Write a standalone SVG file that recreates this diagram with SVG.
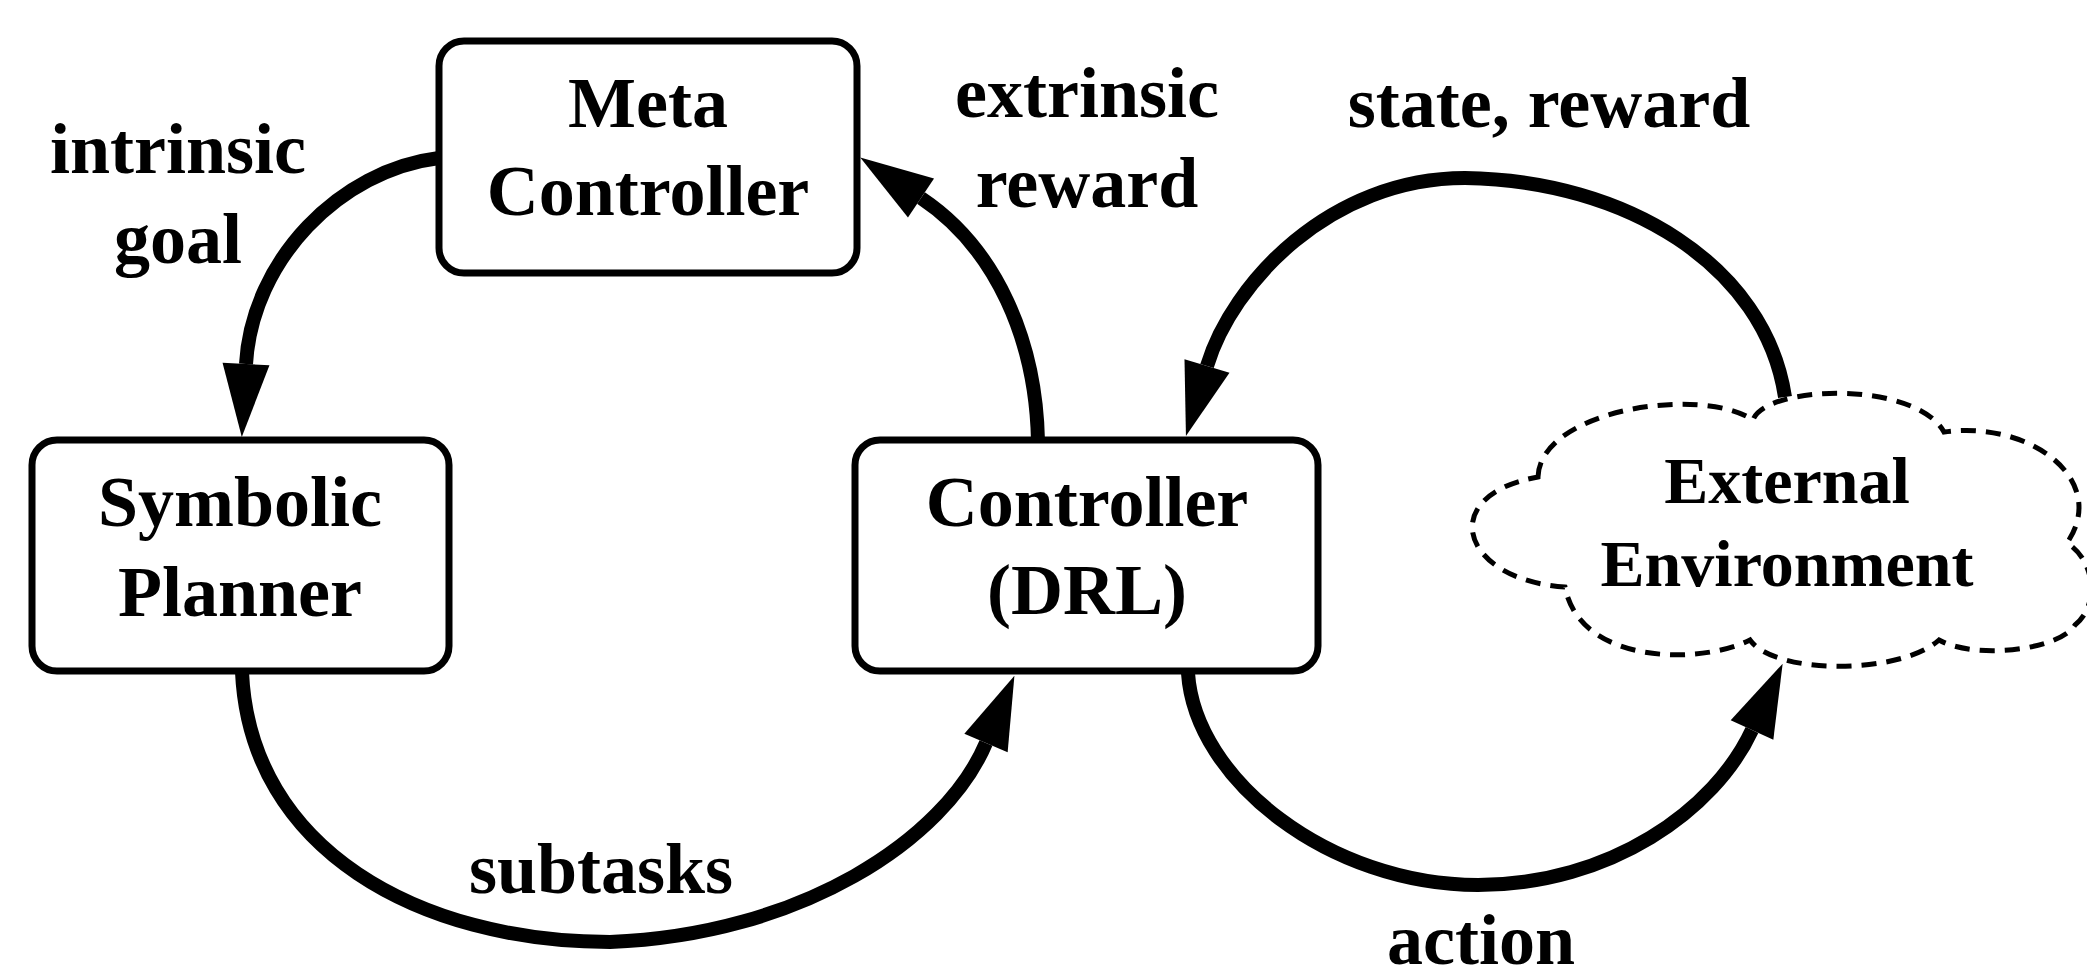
<svg xmlns="http://www.w3.org/2000/svg" width="2087" height="973" viewBox="0 0 2087 973">
  <style>
    .box { fill: #ffffff; stroke: #000000; stroke-width: 7; }
    .cloud { fill: none; stroke: #000000; stroke-width: 5; stroke-dasharray: 15 10; }
    .edge { fill: none; stroke: #000000; stroke-width: 14; }
    text { font-family: "Liberation Serif", "Times New Roman", serif; font-weight: bold; font-size: 72px; fill: #000000; text-anchor: middle; }
    .small { font-size: 66px; }
  </style>
  <defs>
    <marker id="arrow" markerUnits="userSpaceOnUse" markerWidth="80" markerHeight="50" refX="0" refY="23.5" orient="auto" overflow="visible">
      <path d="M0,0 L73,23.5 L0,47 Z" fill="#000000"/>
    </marker>
  </defs>

  <rect width="2087" height="973" fill="#ffffff"/>

  <!-- connectors -->
  <g id="connectors">
    <path id="edge-intrinsic-goal" class="edge" d="M439,158 C340,170 252,260 246,364" marker-end="url(#arrow)"/>
    <path id="edge-extrinsic-reward" class="edge" d="M1038,441 C1036,340 996,248 921,198" marker-end="url(#arrow)"/>
    <path id="edge-state-reward" class="edge" d="M1785,397 C1765,265 1625,180 1465,178 C1330,178 1232,283 1207,366" marker-end="url(#arrow)"/>
    <path id="edge-subtasks" class="edge" d="M242,672 C250,850 420,942 610,942 C800,935 945,840 986,743" marker-end="url(#arrow)"/>
    <path id="edge-action" class="edge" d="M1188,673 C1195,780 1330,885 1478,885 C1610,885 1715,810 1752,730" marker-end="url(#arrow)"/>
  </g>

  <!-- edge labels -->
  <g id="edge-labels">
    <text x="178" y="173">intrinsic</text>
    <text x="178" y="263">goal</text>
    <text x="1087" y="117">extrinsic</text>
    <text x="1087" y="207">reward</text>
    <text x="1549" y="127">state, reward</text>
    <text x="601" y="893">subtasks</text>
    <text x="1481" y="964">action</text>
  </g>

  <g id="meta-controller">
    <rect class="box" x="439" y="41" width="418" height="232" rx="25" ry="25"/>
    <text x="648" y="127">Meta</text>
    <text x="648" y="215">Controller</text>
  </g>

  <g id="symbolic-planner">
    <rect class="box" x="32" y="440" width="417" height="231" rx="25" ry="25"/>
    <text x="240" y="526">Symbolic</text>
    <text x="240" y="616">Planner</text>
  </g>

  <g id="controller-drl">
    <rect class="box" x="855" y="440" width="463" height="231" rx="25" ry="25"/>
    <text x="1087" y="526">Controller</text>
    <text x="1087" y="614">(DRL)</text>
  </g>

  <g id="external-environment">
    <path class="cloud" d="M1538,477 C1540,410 1700,385 1753,420 C1765,385 1915,380 1944,432 C2030,420 2110,480 2067,543 C2095,560 2100,605 2075,625 C2060,650 1975,660 1939,640 C1900,675 1775,675 1750,640 C1700,665 1580,665 1565,587 C1460,580 1435,495 1538,477 Z"/>
    <text class="small" x="1787" y="503">External</text>
    <text class="small" x="1787" y="586">Environment</text>
  </g>
</svg>
